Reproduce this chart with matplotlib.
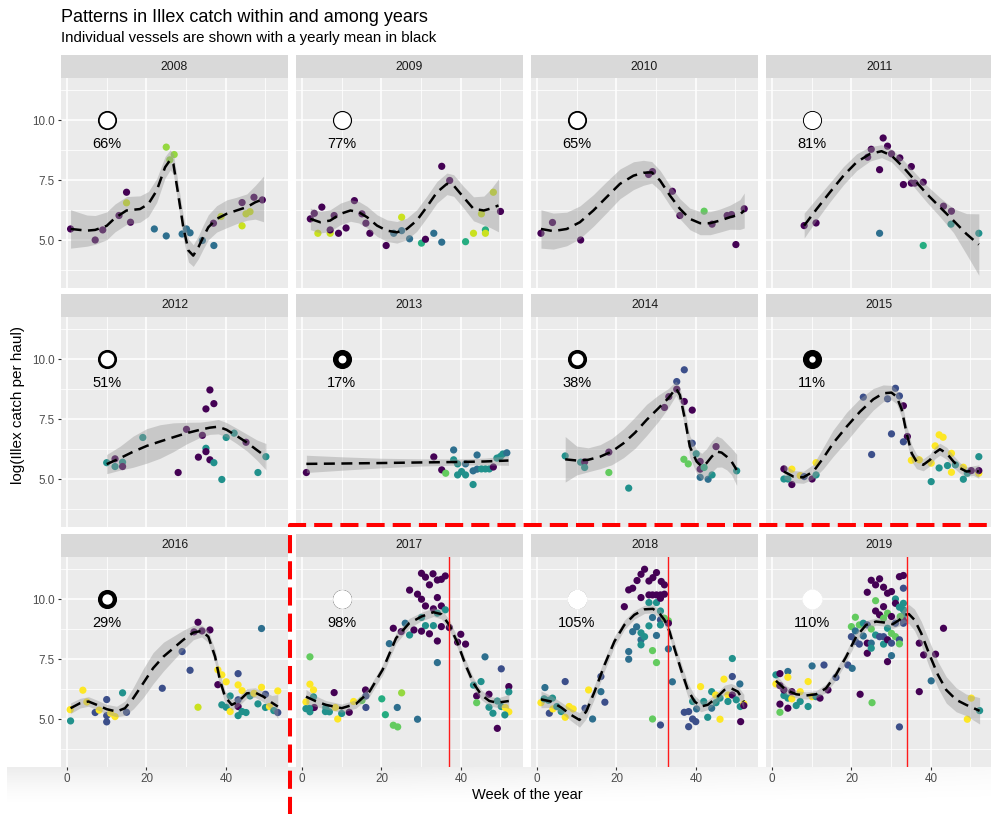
"""Faceted Illex catch by week of year, one panel per year, with a yearly smooth."""

import matplotlib

matplotlib.use("Agg")

import matplotlib.pyplot as plt
import numpy as np
from matplotlib.lines import Line2D
from matplotlib.patches import Rectangle

plt.rcParams["font.family"] = ["Liberation Sans", "DejaVu Sans"]

YEARS = [2008, 2009, 2010, 2011, 2012, 2013, 2014, 2015, 2016, 2017, 2018, 2019]

# share of the long-term mean catch reached in each year (%)
PCT = [66, 77, 65, 81, 51, 17, 38, 11, 29, 98, 105, 110]

# closure week marked for the recent years
CLOSURE_WEEK = {2017: 37, 2018: 33, 2019: 34}

# vessel group -> position on the viridis scale
VESSEL_LEVEL = {"p": 0.0, "i": 0.24, "b": 0.36, "t": 0.5, "e": 0.62,
                "g": 0.76, "l": 0.84, "k": 0.92, "y": 1.0}

# (week, log catch, vessel group)
PTS_2008 = [(0.9, 5.47, "p"), (7.1, 5.01, "p"), (9.0, 5.43, "p"), (15.0, 7.0, "p"), (15.0, 6.56, "k"),
            (16.0, 5.75, "p"), (13.1, 6.03, "p"), (22.0, 5.47, "b"), (25.0, 8.88, "l"), (27.0, 8.57, "l"),
            (25.9, 8.35, "l"), (25.0, 5.18, "b"), (29.0, 5.26, "b"), (30.1, 5.47, "b"), (31.0, 5.31, "b"),
            (34.1, 4.99, "b"), (37.0, 4.78, "b"), (36.9, 5.71, "p"), (38.8, 5.99, "k"), (44.1, 6.57, "p"),
            (44.1, 5.6, "k"), (45.1, 6.1, "k"), (46.1, 6.19, "k"), (47.1, 6.79, "p"), (49.2, 6.68, "p")]
PTS_2009 = [(2.1, 5.89, "p"), (3.1, 6.12, "p"), (5.0, 6.38, "p"), (4.0, 5.29, "k"), (7.1, 5.29, "k"),
            (7.1, 5.43, "p"), (8.1, 6.03, "p"), (9.2, 5.29, "p"), (11.1, 5.51, "p"), (13.2, 6.65, "p"),
            (15.1, 6.1, "p"), (16.1, 5.71, "p"), (17.1, 5.29, "p"), (21.2, 4.78, "p"), (23.1, 5.29, "b"),
            (25.1, 5.96, "k"), (25.1, 5.4, "b"), (27.1, 5.06, "b"), (30.1, 4.88, "e"), (31.1, 5.04, "p"),
            (33.2, 5.29, "b"), (35.2, 4.92, "b"), (35.2, 8.08, "p"), (37.2, 7.49, "p"), (41.2, 4.94, "e"),
            (43.2, 5.29, "k"), (45.2, 6.1, "k"), (46.2, 5.43, "e"), (46.2, 5.29, "k"), (48.2, 7.0, "k"),
            (50.0, 6.2, "p")]
PTS_2010 = [(1.0, 5.29, "p"), (3.9, 5.74, "p"), (11.0, 5.01, "p"), (28.1, 7.74, "p"), (29.1, 7.86, "p"),
            (34.1, 7.04, "p"), (36.0, 6.03, "p"), (42.1, 6.21, "g"), (44.1, 5.67, "p"), (47.9, 6.03, "p"),
            (49.0, 6.07, "p"), (50.1, 4.82, "p"), (52.2, 6.31, "p")]
PTS_2011 = [(8.1, 5.61, "p"), (11.1, 5.72, "p"), (25.0, 8.79, "p"), (24.1, 8.46, "p"), (28.0, 9.26, "p"),
            (29.1, 8.92, "p"), (27.1, 7.94, "p"), (27.1, 5.29, "b"), (30.1, 8.6, "p"), (32.2, 8.43, "p"),
            (35.1, 8.07, "p"), (33.1, 7.32, "p"), (35.1, 7.38, "p"), (36.0, 7.38, "p"), (38.1, 7.42, "p"),
            (38.1, 4.78, "e"), (43.2, 6.42, "p"), (45.2, 6.21, "p"), (45.1, 5.67, "t"), (52.1, 5.29, "t")]
PTS_2012 = [(10.0, 5.69, "t"), (12.1, 5.85, "p"), (12.1, 5.53, "t"), (14.0, 5.71, "t"), (14.0, 5.53, "p"),
            (19.1, 6.74, "t"), (28.0, 5.28, "p"), (30.1, 7.08, "p"), (33.1, 5.92, "p"), (34.1, 6.83, "p"),
            (35.0, 7.93, "p"), (36.0, 8.72, "p"), (37.0, 8.15, "p"), (35.0, 6.29, "t"), (35.0, 6.15, "p"),
            (36.0, 5.81, "p"), (37.0, 5.69, "t"), (39.0, 4.99, "t"), (40.1, 6.74, "t"), (42.1, 6.92, "t"),
            (45.1, 6.54, "p"), (48.1, 5.28, "t"), (50.1, 5.94, "t")]
PTS_2013 = [(1.1, 5.28, "p"), (33.2, 5.93, "p"), (35.2, 5.39, "p"), (36.2, 5.25, "g"), (38.2, 6.22, "b"),
            (38.2, 5.81, "t"), (39.2, 5.18, "t"), (40.2, 5.32, "t"), (41.2, 5.18, "t"), (39.2, 5.64, "t"),
            (41.2, 5.64, "b"), (43.1, 4.78, "t"), (43.1, 5.35, "b"), (44.1, 6.01, "b"), (44.1, 5.42, "b"),
            (45.2, 5.43, "t"), (46.2, 5.43, "t"), (47.2, 5.43, "t"), (48.2, 5.51, "p"), (49.1, 5.88, "t"),
            (50.0, 5.95, "t"), (50.6, 6.05, "t"), (51.6, 6.1, "b")]
PTS_2014 = [(7.1, 5.97, "t"), (11.0, 5.71, "t"), (12.0, 5.72, "p"), (12.0, 5.49, "t"), (18.1, 5.28, "g"),
            (18.1, 6.13, "p"), (23.1, 4.63, "t"), (32.1, 7.99, "p"), (33.2, 8.44, "p"), (35.2, 9.07, "i"),
            (35.2, 8.75, "p"), (37.1, 9.56, "i"), (37.1, 8.24, "p"), (39.1, 7.88, "p"), (39.1, 6.5, "i"),
            (40.1, 6.06, "t"), (37.0, 5.83, "g"), (38.1, 5.64, "g"), (41.1, 5.74, "p"), (41.1, 5.42, "p"),
            (42.1, 5.49, "e"), (41.1, 5.08, "b"), (43.1, 5.0, "b"), (44.1, 5.18, "t"), (45.1, 6.36, "p"),
            (50.3, 5.35, "t")]
PTS_2015 = [(3.0, 5.43, "p"), (3.0, 5.01, "t"), (5.0, 5.42, "y"), (5.0, 4.78, "p"), (4.0, 5.01, "t"),
            (7.1, 5.15, "y"), (8.1, 5.11, "i"), (10.1, 5.01, "p"), (11.1, 5.69, "y"), (11.1, 5.18, "t"),
            (23.0, 8.42, "i"), (25.1, 6.03, "i"), (29.1, 8.35, "i"), (31.1, 8.79, "i"), (32.1, 8.47, "i"),
            (30.1, 6.89, "i"), (33.1, 8.06, "p"), (34.1, 6.78, "p"), (33.1, 6.56, "i"), (35.1, 5.79, "y"),
            (37.1, 5.81, "y"), (40.1, 5.67, "y"), (40.1, 4.9, "t"), (41.1, 6.39, "y"), (42.1, 6.85, "y"),
            (43.1, 6.75, "y"), (42.1, 5.47, "t"), (44.2, 5.57, "t"), (45.2, 6.08, "y"), (45.2, 5.29, "y"),
            (46.2, 5.6, "t"), (48.2, 5.0, "t"), (48.2, 5.5, "y"), (49.2, 5.25, "t"), (50.2, 5.36, "p"),
            (52.1, 5.94, "t"), (52.1, 5.25, "y"), (52.1, 5.36, "p")]
PTS_2016 = [(0.9, 4.93, "t"), (0.8, 5.4, "y"), (4.0, 6.21, "y"), (5.0, 5.72, "y"), (7.1, 5.28, "i"),
            (8.1, 5.38, "y"), (10.0, 5.82, "i"), (10.0, 5.15, "i"), (10.0, 4.89, "i"), (11.0, 5.25, "y"),
            (12.1, 5.11, "y"), (14.0, 6.1, "t"), (15.0, 5.29, "i"), (24.0, 6.29, "i"), (29.0, 7.82, "i"),
            (31.0, 7.04, "i"), (32.0, 8.64, "p"), (33.0, 9.04, "p"), (34.0, 8.68, "p"), (36.0, 8.72, "p"),
            (33.0, 5.5, "k"), (38.0, 7.06, "y"), (39.0, 6.85, "y"), (40.1, 6.56, "y"), (38.0, 6.44, "p"),
            (39.0, 5.6, "t"), (40.1, 5.5, "t"), (41.1, 5.32, "y"), (41.1, 5.97, "t"), (43.1, 6.9, "i"),
            (43.1, 6.43, "y"), (43.1, 5.81, "i"), (43.1, 5.53, "p"), (43.1, 5.15, "t"), (44.1, 6.19, "y"),
            (44.1, 5.32, "t"), (45.1, 5.28, "t"), (46.1, 5.97, "t"), (47.1, 6.08, "y"), (48.1, 5.64, "t"),
            (49.0, 8.78, "b"), (49.0, 6.33, "y"), (50.0, 6.04, "i"), (50.0, 5.49, "t"), (51.0, 5.53, "y"),
            (52.1, 5.36, "t"), (53.1, 6.18, "y"), (53.1, 5.28, "i")]
PTS_2017 = [(2.0, 7.6, "g"), (2.0, 6.46, "y"), (2.9, 6.22, "y"), (1.0, 5.72, "y"), (1.0, 5.44, "t"),
            (2.0, 5.31, "t"), (2.9, 5.93, "t"), (3.1, 5.49, "p"), (1.9, 5.45, "t"), (6.0, 5.49, "t"),
            (6.9, 5.31, "t"), (5.9, 5.32, "t"), (8.1, 6.11, "p"), (9.0, 5.01, "y"), (8.4, 5.49, "y"),
            (10.0, 5.24, "t"), (11.9, 5.29, "p"), (13.0, 5.74, "y"), (15.1, 5.78, "g"), (16.0, 6.22, "p"),
            (16.1, 5.97, "i"), (16.1, 5.49, "i"), (20.1, 5.85, "e"), (21.0, 5.19, "e"), (23.0, 4.75, "g"),
            (24.1, 4.68, "g"), (25.1, 6.1, "l"), (24.0, 5.49, "b"), (22.0, 8.15, "b"), (23.0, 8.79, "p"),
            (26.0, 9.0, "b"), (25.0, 8.65, "p"), (27.1, 8.51, "t"), (28.2, 8.72, "p"), (29.1, 5.0, "b"),
            (27.1, 10.38, "p"), (29.1, 10.21, "p"), (30.1, 10.0, "p"), (30.1, 11.08, "p"), (31.1, 10.92, "p"),
            (32.1, 10.6, "p"), (33.0, 11.06, "p"), (34.1, 10.8, "p"), (35.1, 10.83, "p"), (36.1, 10.97, "p"),
            (31.1, 9.72, "p"), (33.1, 9.6, "p"), (34.1, 10.07, "p"), (35.1, 9.72, "p"), (30.1, 9.24, "t"),
            (31.1, 8.9, "t"), (33.1, 8.9, "t"), (34.1, 9.42, "t"), (36.1, 9.56, "t"), (30.1, 8.67, "p"),
            (32.1, 8.56, "p"), (35.1, 8.86, "p"), (34.1, 8.26, "p"), (34.1, 7.36, "b"), (37.1, 8.82, "p"),
            (40.0, 8.54, "p"), (39.2, 8.21, "p"), (41.2, 8.13, "p"), (46.1, 7.6, "b"), (43.2, 6.42, "t"),
            (45.1, 6.57, "t"), (44.0, 5.97, "p"), (44.0, 5.69, "g"), (47.1, 6.04, "p"), (47.1, 5.5, "t"),
            (48.1, 5.25, "t"), (49.2, 4.62, "p"), (50.2, 7.1, "i"), (49.2, 5.76, "t"), (50.2, 5.53, "t"),
            (51.2, 5.49, "y"), (52.1, 5.31, "y"), (51.1, 5.18, "t"), (52.1, 6.36, "p"), (52.1, 6.14, "t")]
PTS_2018 = [(1.0, 5.69, "y"), (2.0, 6.32, "b"), (1.8, 5.85, "t"), (2.9, 5.79, "t"), (3.1, 5.25, "i"),
            (3.9, 5.88, "t"), (4.0, 5.43, "y"), (5.0, 5.53, "t"), (6.1, 5.32, "t"), (7.1, 6.57, "i"),
            (7.1, 5.08, "y"), (8.1, 5.53, "y"), (9.1, 5.43, "y"), (12.1, 5.46, "i"), (13.0, 6.22, "y"),
            (14.0, 5.01, "b"), (16.1, 6.78, "i"), (16.1, 6.15, "b"), (17.1, 5.71, "i"), (22.0, 9.69, "p"),
            (23.1, 10.39, "p"), (24.1, 10.46, "p"), (23.1, 7.82, "b"), (23.1, 7.5, "b"), (24.1, 8.65, "b"),
            (25.1, 8.85, "b"), (26.2, 8.6, "t"), (26.2, 8.31, "b"), (26.2, 8.1, "t"), (27.1, 8.44, "t"),
            (25.2, 10.78, "p"), (26.2, 11.04, "p"), (27.1, 11.25, "p"), (28.2, 10.76, "p"), (29.2, 10.9, "p"),
            (30.1, 11.11, "p"), (31.3, 10.74, "p"), (32.1, 10.6, "p"), (26.2, 10.07, "p"), (28.2, 10.18, "p"),
            (29.1, 10.18, "p"), (30.1, 10.18, "p"), (31.1, 10.18, "p"), (32.1, 10.21, "p"), (28.2, 9.86, "t"),
            (30.1, 9.86, "t"), (31.1, 10.04, "p"), (31.1, 9.51, "t"), (28.2, 8.89, "t"), (29.1, 9.24, "b"),
            (30.1, 8.49, "b"), (31.1, 9.14, "i"), (32.1, 9.21, "g"), (33.1, 9.1, "g"), (33.1, 9.0, "p"),
            (31.1, 8.93, "t"), (33.1, 7.93, "b"), (29.1, 7.86, "g"), (30.1, 7.36, "g"), (29.1, 5.01, "g"),
            (31.1, 4.76, "i"), (34.1, 6.56, "b"), (37.1, 5.29, "i"), (38.2, 5.32, "i"), (39.2, 5.74, "t"),
            (39.2, 5.01, "i"), (38.2, 4.69, "i"), (40.0, 4.9, "i"), (40.2, 5.43, "b"), (41.2, 6.36, "y"),
            (42.0, 5.74, "t"), (43.0, 5.08, "t"), (44.0, 6.15, "t"), (44.0, 5.46, "b"), (45.0, 6.01, "y"),
            (45.1, 5.69, "t"), (46.1, 5.0, "y"), (46.1, 5.88, "t"), (47.1, 6.67, "y"), (48.1, 6.01, "y"),
            (48.1, 5.74, "t"), (49.2, 7.53, "t"), (49.2, 6.78, "i"), (49.2, 6.01, "p"), (50.2, 5.81, "t"),
            (51.1, 6.47, "b"), (51.2, 5.53, "t"), (52.1, 5.64, "y"), (51.3, 4.9, "p"), (52.1, 5.57, "p")]
PTS_2019 = [(1.0, 6.85, "t"), (2.0, 6.9, "p"), (4.0, 6.99, "b"), (1.0, 6.47, "y"), (4.0, 6.75, "y"),
            (2.0, 6.4, "p"), (3.0, 5.99, "t"), (4.0, 5.88, "t"), (3.0, 6.22, "p"), (5.0, 6.15, "p"),
            (2.0, 5.63, "p"), (2.0, 5.29, "g"), (4.0, 5.46, "p"), (5.0, 5.85, "y"), (6.1, 5.57, "t"),
            (7.1, 5.74, "t"), (7.1, 6.15, "y"), (9.1, 6.57, "y"), (9.1, 5.53, "t"), (10.1, 7.22, "b"),
            (10.1, 5.94, "y"), (11.1, 5.94, "t"), (12.1, 5.88, "p"), (13.1, 7.26, "i"), (14.1, 6.22, "p"),
            (16.1, 6.74, "i"), (19.1, 7.26, "i"), (20.2, 7.12, "b"), (22.2, 6.04, "p"), (25.2, 5.69, "g"),
            (32.1, 4.68, "i"), (21.0, 9.25, "g"), (20.0, 8.86, "g"), (20.0, 8.44, "i"), (21.0, 8.68, "b"),
            (21.0, 8.24, "i"), (22.0, 8.93, "g"), (22.0, 8.13, "i"), (23.0, 9.0, "t"), (23.0, 8.47, "b"),
            (24.0, 10.29, "p"), (24.0, 8.93, "i"), (24.0, 8.17, "p"), (24.0, 7.75, "p"), (25.0, 10.79, "p"),
            (25.0, 8.17, "b"), (25.0, 7.96, "t"), (25.0, 8.76, "g"), (26.1, 10.6, "p"), (26.1, 9.94, "g"),
            (26.1, 9.51, "p"), (26.1, 8.51, "t"), (27.1, 10.85, "p"), (27.1, 9.35, "p"), (27.1, 8.44, "i"),
            (28.1, 10.5, "p"), (28.1, 9.69, "p"), (28.1, 9.21, "g"), (28.1, 8.44, "i"), (28.1, 8.13, "t"),
            (29.1, 10.25, "p"), (29.1, 9.42, "g"), (29.1, 8.79, "t"), (29.1, 8.31, "p"), (29.1, 7.4, "p"),
            (30.1, 10.32, "p"), (30.1, 9.28, "p"), (30.1, 8.58, "g"), (30.1, 8.17, "i"), (30.1, 7.65, "b"),
            (31.1, 10.01, "t"), (31.1, 9.83, "p"), (31.1, 8.44, "g"), (31.1, 9.0, "i"), (32.1, 10.94, "p"),
            (32.1, 9.67, "t"), (32.1, 8.31, "i"), (32.1, 8.14, "g"), (33.1, 10.99, "p"), (33.1, 10.46, "i"),
            (33.1, 9.83, "t"), (33.1, 9.56, "t"), (33.1, 9.32, "t"), (33.1, 9.11, "p"), (32.3, 9.28, "g"),
            (33.1, 9.0, "i"), (37.1, 8.17, "p"), (38.2, 7.68, "p"), (37.1, 6.15, "p"), (41.2, 7.71, "p"),
            (43.2, 8.79, "p"), (40.1, 6.6, "b"), (49.2, 5.0, "y"), (50.2, 5.88, "y"), (52.3, 5.36, "t")]

# yearly smooth: (week, fitted mean, half width of the band)
FIT_2008 = [(0.9, 5.47, 0.8), (5.0, 5.40, 0.65), (7.1, 5.43, 0.6), (10.0, 5.60, 0.58), (12.1, 5.93, 0.58),
            (15.0, 6.24, 0.58), (18.4, 6.30, 0.55), (20.5, 6.51, 0.52), (22.6, 7.07, 0.5), (24.7, 8.04, 0.45),
            (26.0, 8.35, 0.42), (26.8, 8.18, 0.42), (28.0, 6.93, 0.45), (29.3, 5.54, 0.48), (30.6, 4.57, 0.48),
            (31.8, 4.36, 0.45), (33.1, 4.71, 0.48), (34.3, 5.13, 0.5), (35.6, 5.54, 0.52), (37.7, 5.89, 0.55),
            (40.2, 6.10, 0.58), (42.7, 6.24, 0.55), (45.3, 6.38, 0.55), (47.4, 6.58, 0.7), (49.5, 6.72, 0.95)]
FIT_2009 = [(2.1, 5.89, 0.45), (4.6, 5.75, 0.45), (7.1, 5.82, 0.45), (9.7, 6.10, 0.45), (12.2, 6.24, 0.45),
            (14.3, 6.17, 0.45), (16.4, 5.96, 0.45), (18.9, 5.61, 0.45), (21.4, 5.40, 0.45), (23.9, 5.33, 0.45),
            (26.4, 5.47, 0.45), (28.9, 5.82, 0.45), (31.4, 6.38, 0.45), (34.0, 7.00, 0.45), (36.5, 7.35, 0.45),
            (38.2, 7.28, 0.45), (40.7, 6.79, 0.45), (43.2, 6.31, 0.5), (45.8, 6.24, 0.6), (47.5, 6.32, 0.8),
            (49.5, 6.45, 1.1)]
FIT_2010 = [(1.0, 5.47, 0.8), (4.1, 5.38, 0.75), (7.5, 5.47, 0.7), (10.8, 5.75, 0.68), (14.2, 6.24, 0.66),
            (17.5, 6.79, 0.65), (20.9, 7.35, 0.62), (24.3, 7.69, 0.58), (26.8, 7.81, 0.52), (28.9, 7.83, 0.45),
            (31.0, 7.49, 0.42), (33.5, 6.86, 0.42), (36.0, 6.31, 0.42), (38.5, 5.89, 0.45), (41.1, 5.71, 0.48),
            (43.6, 5.71, 0.48), (46.1, 5.82, 0.48), (48.6, 5.96, 0.5), (51.1, 6.07, 0.62), (52.2, 6.24, 0.73)]
FIT_2011 = [(8.1, 5.61, 0.52), (11.3, 6.31, 0.45), (14.6, 7.00, 0.4), (18.0, 7.69, 0.38), (21.3, 8.25, 0.35),
            (24.7, 8.60, 0.3), (27.6, 8.71, 0.27), (30.1, 8.53, 0.27), (33.1, 8.04, 0.3), (36.0, 7.49, 0.32),
            (39.0, 6.93, 0.35), (42.3, 6.38, 0.4), (45.7, 5.82, 0.5), (49.0, 5.26, 0.85), (52.1, 4.82, 1.28)]
FIT_2012 = [(10.0, 5.63, 0.4), (13.4, 5.88, 0.5), (16.7, 6.15, 0.65), (20.1, 6.39, 0.72), (23.4, 6.57, 0.7),
            (26.8, 6.75, 0.6), (30.1, 6.92, 0.45), (33.5, 7.06, 0.32), (36.0, 7.15, 0.28), (38.1, 7.19, 0.3),
            (40.2, 7.06, 0.3), (42.7, 6.81, 0.32), (45.3, 6.53, 0.35), (47.8, 6.22, 0.42), (50.1, 5.94, 0.55)]
FIT_2013 = [(1.1, 5.64, 0.36), (10.0, 5.655, 0.28), (20.0, 5.675, 0.2), (30.0, 5.70, 0.15), (40.0, 5.72, 0.13),
            (46.0, 5.74, 0.14), (52.0, 5.78, 0.2)]
FIT_2014 = [(7.1, 5.83, 0.95), (10.0, 5.78, 0.6), (12.9, 5.81, 0.5), (15.9, 5.94, 0.5), (18.8, 6.15, 0.55),
            (21.8, 6.50, 0.6), (24.7, 6.94, 0.65), (27.6, 7.47, 0.65), (30.6, 7.96, 0.55), (33.1, 8.38, 0.4),
            (35.0, 8.79, 0.3), (36.0, 8.51, 0.32), (37.3, 7.47, 0.4), (38.5, 6.36, 0.45), (40.2, 5.74, 0.5),
            (41.5, 5.53, 0.55), (42.7, 5.67, 0.6), (44.0, 5.94, 0.65), (45.3, 6.15, 0.65), (46.5, 6.11, 0.6),
            (47.8, 5.94, 0.55), (49.0, 5.74, 0.55), (50.3, 5.39, 0.65)]
FIT_2015 = [(3.0, 5.32, 0.3), (5.4, 5.11, 0.25), (7.9, 5.08, 0.25), (10.4, 5.32, 0.3), (12.9, 5.88, 0.45),
            (15.4, 6.50, 0.55), (18.8, 7.19, 0.6), (22.2, 7.82, 0.55), (25.5, 8.33, 0.45), (28.0, 8.58, 0.35),
            (30.1, 8.61, 0.3), (31.4, 8.44, 0.3), (32.7, 7.89, 0.32), (33.9, 6.92, 0.35), (35.2, 6.08, 0.35),
            (36.4, 5.74, 0.3), (38.1, 5.60, 0.25), (39.8, 5.81, 0.25), (41.1, 6.11, 0.25), (42.3, 6.25, 0.25),
            (44.0, 6.08, 0.25), (45.7, 5.74, 0.25), (47.4, 5.46, 0.22), (49.0, 5.32, 0.2), (50.7, 5.36, 0.2),
            (52.1, 5.32, 0.28)]
FIT_2016 = [(0.9, 5.46, 0.22), (3.3, 5.67, 0.2), (5.4, 5.74, 0.2), (7.5, 5.60, 0.2), (10.0, 5.42, 0.2),
            (12.5, 5.32, 0.22), (14.6, 5.46, 0.3), (16.7, 5.88, 0.45), (19.2, 6.50, 0.6), (21.7, 7.13, 0.65),
            (24.3, 7.61, 0.6), (26.8, 7.96, 0.5), (29.3, 8.31, 0.4), (31.8, 8.61, 0.3), (33.9, 8.68, 0.25),
            (35.6, 8.44, 0.25), (37.3, 7.61, 0.28), (38.5, 6.64, 0.28), (39.8, 5.94, 0.25), (41.5, 5.60, 0.22),
            (43.2, 5.74, 0.2), (45.3, 6.08, 0.2), (47.4, 6.11, 0.2), (49.5, 5.94, 0.22), (51.6, 5.69, 0.3),
            (53.1, 5.53, 0.5)]
FIT_2017 = [(1.0, 5.94, 0.3), (3.5, 5.75, 0.22), (6.0, 5.60, 0.18), (10.0, 5.46, 0.17), (13.6, 5.64, 0.18),
            (17.0, 6.15, 0.2), (20.3, 7.06, 0.22), (23.7, 8.38, 0.22), (27.0, 9.00, 0.2), (30.1, 9.28, 0.18),
            (33.1, 9.46, 0.18), (35.1, 9.38, 0.2), (37.1, 8.93, 0.22), (39.2, 8.17, 0.22), (41.2, 7.26, 0.22),
            (43.2, 6.50, 0.22), (45.2, 6.01, 0.2), (47.2, 5.76, 0.2), (49.2, 5.69, 0.2), (51.3, 5.74, 0.25),
            (52.1, 5.76, 0.32)]
FIT_2018 = [(1.0, 5.83, 0.35), (3.5, 5.74, 0.25), (6.1, 5.49, 0.22), (8.6, 5.18, 0.25), (10.7, 4.97, 0.3),
            (12.4, 5.32, 0.3), (14.5, 6.15, 0.28), (17.0, 7.26, 0.25), (19.5, 8.24, 0.22), (22.0, 8.93, 0.2),
            (24.5, 9.35, 0.18), (27.1, 9.58, 0.17), (29.2, 9.60, 0.17), (30.8, 9.42, 0.18), (32.1, 9.14, 0.2),
            (33.4, 8.65, 0.22), (34.6, 7.96, 0.25), (36.3, 7.06, 0.28), (38.0, 6.22, 0.28), (39.7, 5.74, 0.25),
            (41.3, 5.53, 0.22), (43.0, 5.60, 0.2), (45.1, 5.88, 0.2), (47.2, 6.22, 0.2), (48.9, 6.29, 0.2),
            (50.6, 6.15, 0.22), (52.1, 5.74, 0.3)]
FIT_2019 = [(1.0, 6.60, 0.25), (3.5, 6.22, 0.18), (6.1, 6.04, 0.15), (8.6, 5.99, 0.15), (11.1, 6.04, 0.15),
            (13.6, 6.29, 0.18), (16.1, 6.85, 0.22), (18.7, 7.61, 0.22), (21.2, 8.44, 0.2), (23.7, 8.93, 0.18),
            (26.2, 9.07, 0.15), (28.3, 9.03, 0.15), (30.4, 8.96, 0.18), (32.1, 9.14, 0.25), (33.4, 9.35, 0.32),
            (34.5, 9.38, 0.4), (35.9, 9.14, 0.45), (37.6, 8.58, 0.5), (39.7, 7.68, 0.55), (41.8, 6.85, 0.55),
            (43.9, 6.22, 0.55), (46.4, 5.81, 0.5), (48.9, 5.60, 0.45), (52.3, 5.35, 0.55)]

POINTS = [PTS_2008, PTS_2009, PTS_2010, PTS_2011, PTS_2012, PTS_2013,
          PTS_2014, PTS_2015, PTS_2016, PTS_2017, PTS_2018, PTS_2019]
FITS = [FIT_2008, FIT_2009, FIT_2010, FIT_2011, FIT_2012, FIT_2013,
        FIT_2014, FIT_2015, FIT_2016, FIT_2017, FIT_2018, FIT_2019]

# ---- layout (pixels on a 991 x 814 canvas) ----
W, H = 991, 814
COL_LEFT = [61, 296, 531, 766]
ROW_TOP = [78, 317, 557]
PANEL_W, PANEL_H, STRIP_H = 227, 210, 23
XLIM = (-1.51, 55.67)
YLIM = (3.01, 11.76)
BADGE_S = 190  # marker area (pt^2) of the full disc

fig = plt.figure(figsize=(W / 100, H / 100), dpi=100)


def fx(px):
    return px / W


def fy(py):
    return 1 - py / H


# soft shading band under the bottom axis
shade = fig.add_axes([fx(7), fy(808), fx(984), 41 / H], zorder=-5)
gy = np.linspace(0, 1, 60)[:, None]
gx = np.clip((1.0 - np.linspace(0, 1, 200)[None, :]) * 1.6, 0, 1)
alpha = (gy ** 1.5) * (0.35 + 0.65 * gx) * 0.075
rgba = np.zeros((60, 200, 4))
rgba[..., 3] = alpha[::-1]
shade.imshow(rgba, aspect="auto", extent=(0, 1, 0, 1))
shade.set_axis_off()

cmap = plt.get_cmap("viridis")

for i, year in enumerate(YEARS):
    row, col = divmod(i, 4)
    left, top = COL_LEFT[col], ROW_TOP[row]
    ax = fig.add_axes([fx(left), fy(top + PANEL_H), PANEL_W / W, PANEL_H / H])
    ax.set_facecolor("#EBEBEB")
    ax.set_xlim(*XLIM)
    ax.set_ylim(*YLIM)
    for s in ax.spines.values():
        s.set_visible(False)

    ax.set_xticks([0, 20, 40])
    ax.set_xticks([10, 30, 50], minor=True)
    ax.set_yticks([5, 7.5, 10])
    ax.set_yticklabels(["5.0", "7.5", "10.0"])
    ax.set_yticks([3.75, 6.25, 8.75, 11.25], minor=True)
    ax.grid(which="major", color="white", linewidth=1.1)
    ax.grid(which="minor", color="white", linewidth=0.55)
    ax.set_axisbelow(True)
    ax.tick_params(which="minor", length=0)
    ax.tick_params(which="major", length=2.4, width=0.8, color="#333333",
                   labelsize=8.4, labelcolor="#4D4D4D", pad=2)
    ax.tick_params(axis="x", bottom=(row == 2), labelbottom=(row == 2))
    ax.tick_params(axis="y", left=(col == 0), labelleft=(col == 0))

    # facet strip
    sh = STRIP_H / PANEL_H
    ax.add_patch(Rectangle((0, 1), 1, sh, transform=ax.transAxes, clip_on=False,
                           facecolor="#D9D9D9", edgecolor="none"))
    ax.text(0.5, 1 + sh / 2, str(year), transform=ax.transAxes, ha="center",
            va="center", fontsize=8.8, color="#1A1A1A")

    pts = POINTS[i]
    wk = [p[0] for p in pts]
    val = [p[1] for p in pts]
    colors = [cmap(VESSEL_LEVEL[p[2]]) for p in pts]
    ax.scatter(wk, val, s=27, c=colors, linewidths=0, zorder=2)

    fit = np.array(FITS[i])
    ax.fill_between(fit[:, 0], fit[:, 1] - fit[:, 2], fit[:, 1] + fit[:, 2],
                    color="#999999", alpha=0.42, linewidth=0, zorder=3)
    ax.plot(fit[:, 0], fit[:, 1], color="black", linewidth=1.8,
            linestyle=(0, (4.4, 2.6)), zorder=4, solid_joinstyle="round")

    # badge: white share of the disc scales with the percentage
    ax.scatter([10], [10], s=BADGE_S, color="black", linewidths=0, zorder=5)
    ax.scatter([10], [10], s=BADGE_S * PCT[i] / 100, color="white", linewidths=0, zorder=6)
    ax.text(10, 9.0, f"{PCT[i]}%", ha="center", va="center", fontsize=10.5,
            color="black", zorder=6)

    if year in CLOSURE_WEEK:
        ax.axvline(CLOSURE_WEEK[year], color="#FF1A1A", linewidth=1.0, zorder=7)

fig.text(fx(61), fy(18), "Patterns in Illex catch within and among years",
         fontsize=13, va="center", ha="left", color="black")
fig.text(fx(61), fy(38), "Individual vessels are shown with a yearly mean in black",
         fontsize=10.8, va="center", ha="left", color="black")
fig.text(fx(18), fy(405), "log(Illex catch per haul)", rotation=90,
         fontsize=11, va="center", ha="center")
fig.text(fx(527), fy(795), "Week of the year", fontsize=10.5, va="center", ha="center")

# dashed frame around the most recent years
frame = Line2D([fx(290), fx(290), fx(995)], [fy(820), fy(525), fy(525)],
               transform=fig.transFigure, color="red", linewidth=2.9,
               linestyle=(0, (4.5, 2.0)), zorder=10)
fig.add_artist(frame)

fig.savefig("out.png", dpi=100)
